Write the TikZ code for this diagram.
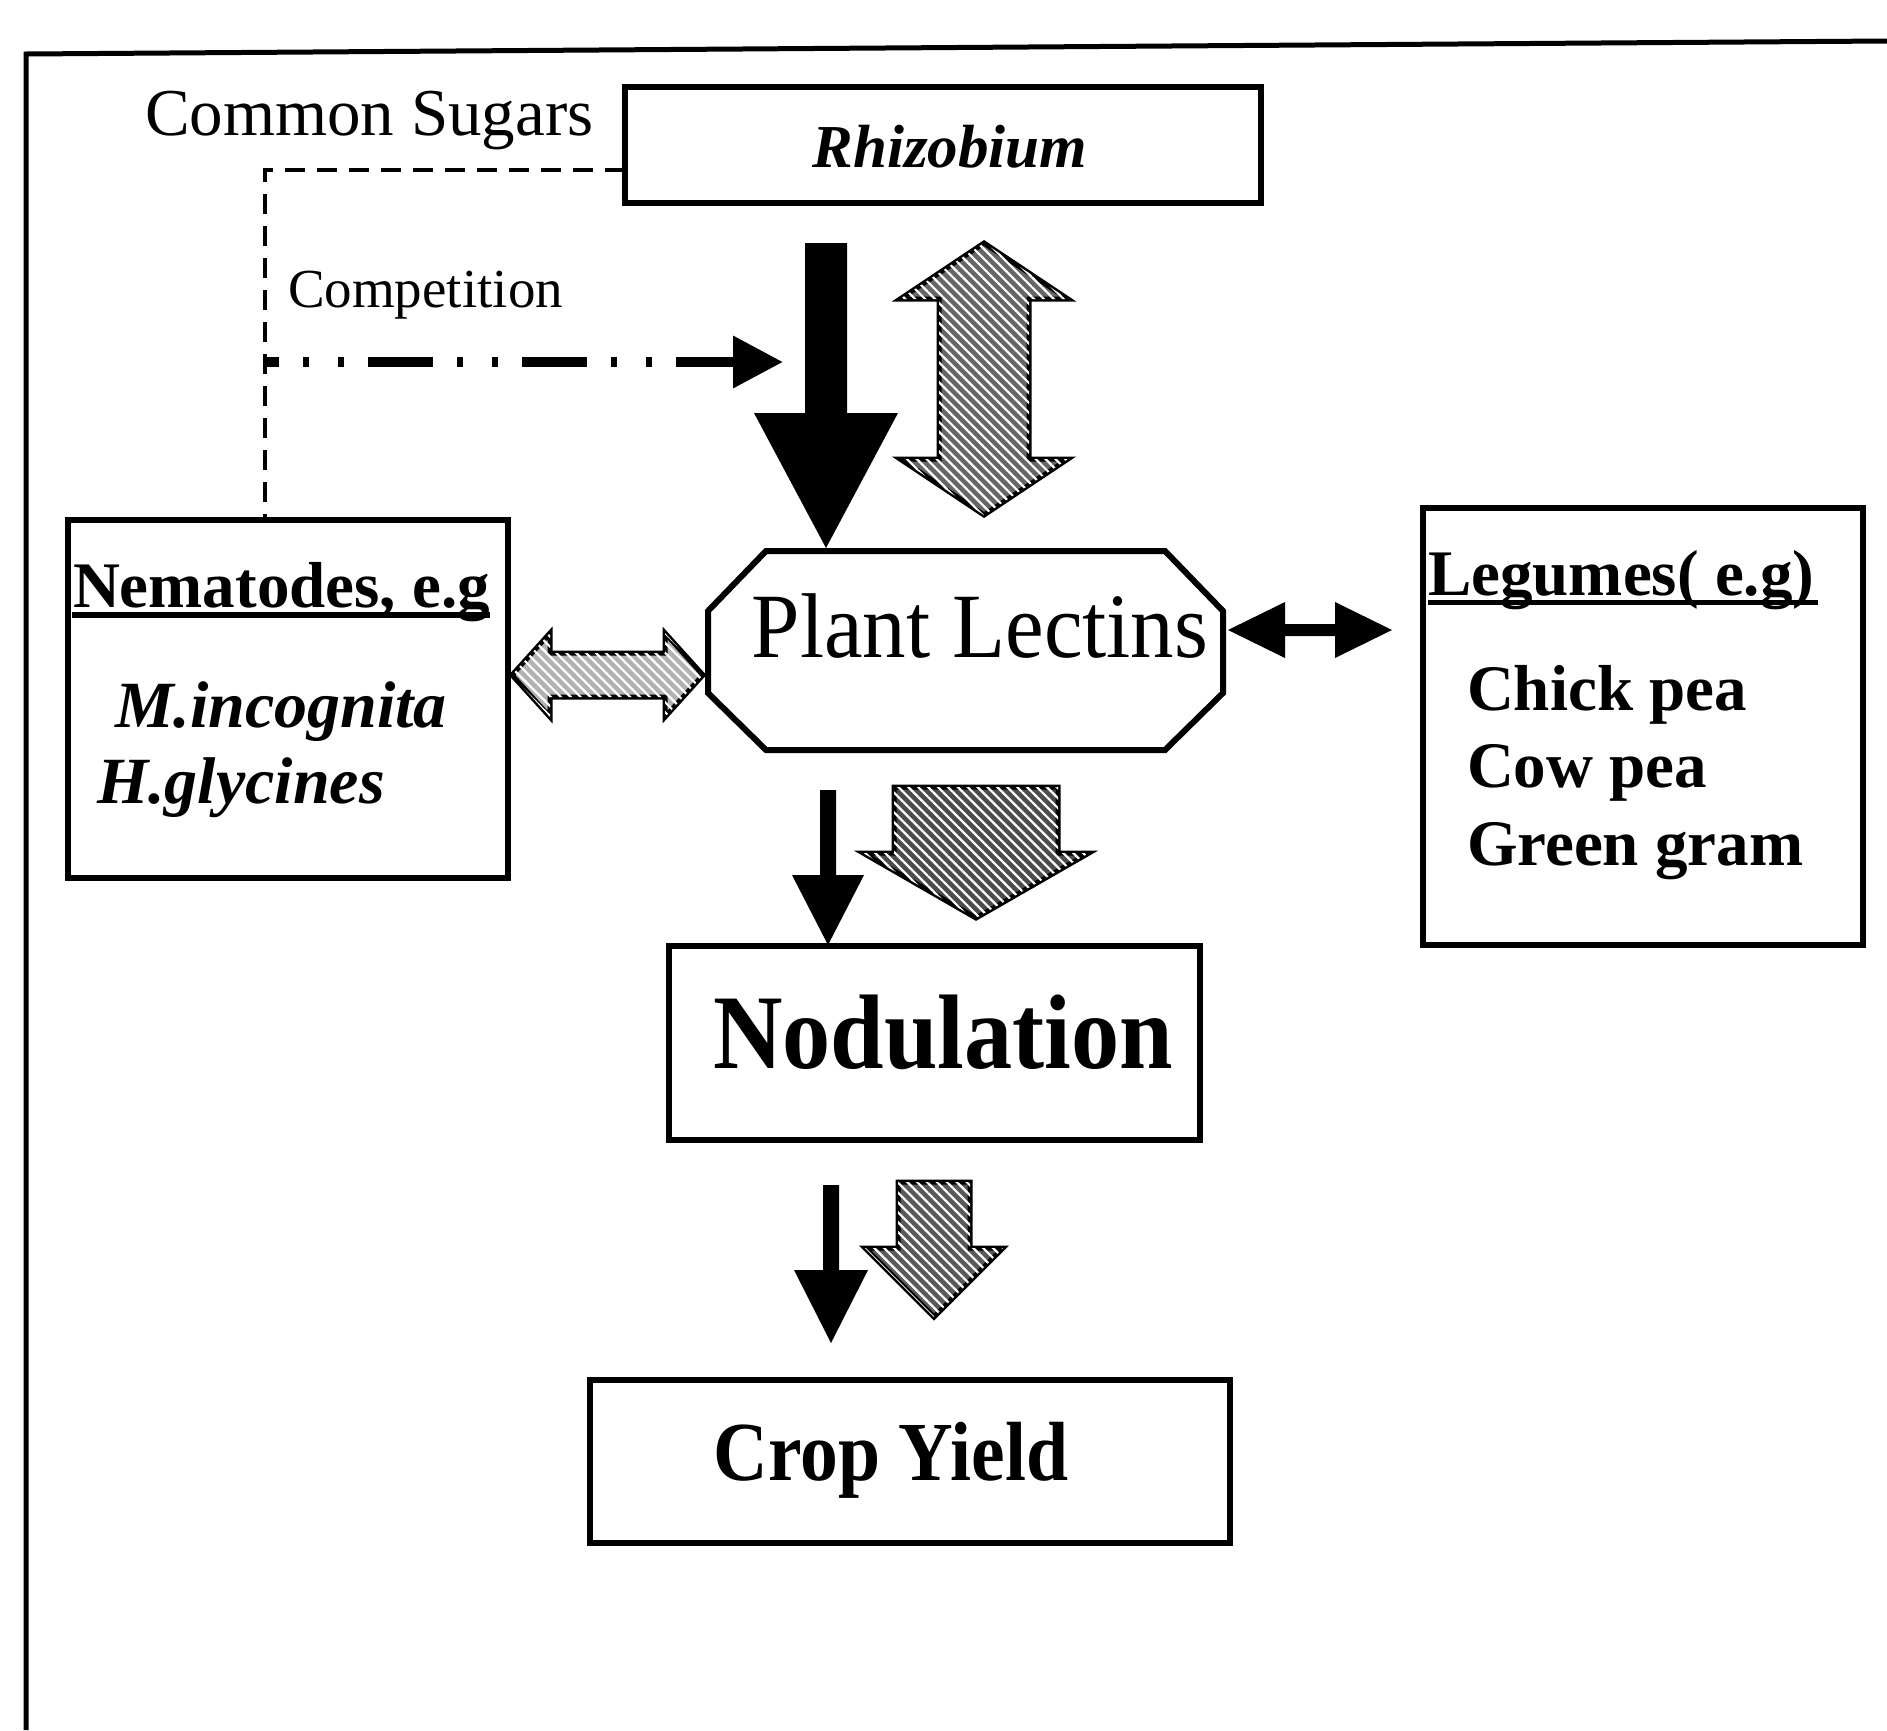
\documentclass[tikz,border=0pt]{standalone}
\usepackage{fontspec}
\setmainfont{Liberation Serif}
\usepackage{graphicx}
\usetikzlibrary{calc,arrows.meta,patterns.meta}

% single block arrow pointing down: style, start, tip, shaft half, head half, head length
\newcommand\vblock[6]{\path[#1] let \p1=(#2), \p2=(#3) in
  (\x1-#4,\y1) -- (\x1+#4,\y1) -- (\x1+#4,\y2+#6) -- (\x1+#5,\y2+#6) -- (\x2,\y2)
  -- (\x1-#5,\y2+#6) -- (\x1-#4,\y2+#6) -- cycle;}
% vertical double block arrow: style, top tip, bottom tip, shaft half, head half, head length
\newcommand\vdbl[6]{\path[#1] let \p1=(#2), \p2=(#3) in
  (\x1,\y1) -- (\x1+#5,\y1-#6) -- (\x1+#4,\y1-#6) -- (\x1+#4,\y2+#6) -- (\x1+#5,\y2+#6)
  -- (\x2,\y2) -- (\x1-#5,\y2+#6) -- (\x1-#4,\y2+#6) -- (\x1-#4,\y1-#6) -- (\x1-#5,\y1-#6) -- cycle;}
% horizontal double block arrow: style, left tip, right tip, shaft half, head half, head length
\newcommand\hdbl[6]{\path[#1] let \p1=(#2), \p2=(#3) in
  (\x1,\y1) -- (\x1+#6,\y1+#5) -- (\x1+#6,\y1+#4) -- (\x2-#6,\y1+#4) -- (\x2-#6,\y1+#5)
  -- (\x2,\y2) -- (\x2-#6,\y1-#5) -- (\x2-#6,\y1-#4) -- (\x1+#6,\y1-#4) -- (\x1+#6,\y1-#5) -- cycle;}

\begin{document}
\begin{tikzpicture}[x=1pt,y=-1pt,
  box/.style={draw, line width=6, inner sep=0pt, outer sep=0pt},
  txt/.style={inner sep=0pt, outer sep=0pt},
  hatch/.style={draw, line width=5, line join=miter, fill=black!#1,
    postaction={pattern={Lines[angle=-45,distance=7pt,line width=2.2pt]}, pattern color=white}},
  solidarrow/.style={fill=black},
  dashline/.style={line width=4, dash pattern=on 20pt off 12pt},
  boldtxt/.style={txt, font=\fontsize{65}{70}\selectfont\bfseries},
  bitxt/.style={txt, font=\fontsize{66}{70}\selectfont\bfseries\itshape},
]
\useasboundingbox (0,0) rectangle (1887,1730);
\fill[white] (0,0) rectangle (1887,1730);

% outer frame
\draw[line width=5] (26,1730) -- (26,54) -- (1887,41);

% boxes
\node[box, minimum width=636, minimum height=116] (rhiz) at (943,145) {};
\node[box, minimum width=440, minimum height=358] (nema) at (288,699) {};
\node[box, minimum width=440, minimum height=437] (legu) at (1643,726.5) {};
\node[box, minimum width=531, minimum height=194] (nodu) at (934.5,1043) {};
\node[box, minimum width=640, minimum height=163] (crop) at (910,1461.5) {};
\node[txt, minimum width=515, minimum height=199] (lect) at (965.5,650.5) {};
\draw[line width=6, line join=miter]
  ($(lect.north west)+(58,0)$) -- ($(lect.north east)+(-58,0)$) -- ($(lect.north east)+(0,60)$)
  -- ($(lect.south east)+(0,-57)$) -- ($(lect.south east)+(-58,0)$) -- ($(lect.south west)+(58,0)$)
  -- ($(lect.south west)+(0,-57)$) -- ($(lect.north west)+(0,60)$) -- cycle;

% texts
\node[txt, anchor=base west, font=\fontsize{67}{72}\selectfont] (sugars) at (145,135) {Common Sugars};
\node[txt, anchor=base, font=\fontsize{61}{66}\selectfont\bfseries\itshape] (rhiztext) at (950,167) {Rhizobium};
\node[txt, anchor=base west, font=\fontsize{55}{60}\selectfont] (comp) at (288,307) {Competition};
\node[boldtxt, anchor=base west] (nemtext) at (73,607) {Nematodes, e.g};
\draw[line width=6] ($(nemtext.base west)+(-1,8)$) -- ($(nemtext.base east)+(0,8)$);
\node[bitxt, anchor=base west] (minc) at (115,727) {M.incognita};
\node[bitxt, anchor=base west] (hgly) at (97,803) {H.glycines};
\node[txt, anchor=base, font=\fontsize{92}{96}\selectfont] (lecttext) at (980,657) {\scalebox{0.945}[1]{Plant Lectins}};
\node[boldtxt, anchor=base west] (legtext) at (1428,595) {Legumes( e.g)};
\draw[line width=5] ($(legtext.base west)+(0,7)$) -- ($(legtext.base east)+(4,7)$);
\node[boldtxt, anchor=base west] (chick) at (1467,710) {Chick pea};
\node[boldtxt, anchor=base west] (cow) at (1467,787) {Cow pea};
\node[boldtxt, anchor=base west] (green) at (1467,865) {Green gram};
\node[txt, anchor=base, font=\fontsize{106}{110}\selectfont\bfseries] (nodtext) at (943,1068) {\scalebox{0.908}[1]{Nodulation}};
\node[txt, anchor=base, font=\fontsize{84}{88}\selectfont\bfseries] (croptext) at (891,1480) {\scalebox{0.9}[1]{Crop Yield}};

% dashed link Rhizobium -- Nematodes
\coordinate (dj) at (265,170);
\draw[dashline] (rhiz.west |- dj) -- (dj) -- (dj |- nema.north);

% competition arrow
\coordinate (cs) at (265,362);
\coordinate (ce) at (783,362);
\draw[line width=10, dash pattern=on 65pt off 24pt on 6pt off 29pt on 6pt off 24pt, dash phase=51pt,
  -{Triangle[length=50pt,width=50pt]}] (cs) -- (ce);

% block arrows
\coordinate (a1) at (826,243); \coordinate (a2) at (826,548);
\vblock{solidarrow}{a1}{a2}{21}{72}{135}
\coordinate (b1) at (984,243); \coordinate (b2) at (984,515);
\vdbl{hatch=60}{b1}{b2}{45}{84}{56}
\coordinate (c1) at (828,790); \coordinate (c2) at (828,945);
\vblock{solidarrow}{c1}{c2}{8}{36}{70}
\coordinate (d1) at (976,787); \coordinate (d2) at (976,918);
\vblock{hatch=70}{d1}{d2}{82}{113}{65}
\coordinate (e1) at (831,1185); \coordinate (e2) at (831,1343);
\vblock{solidarrow}{e1}{e2}{8}{37}{73}
\coordinate (f1) at (934,1182); \coordinate (f2) at (934,1317);
\vblock{hatch=65}{f1}{f2}{36}{69}{69}
\coordinate (g1) at (512,675); \coordinate (g2) at (703,675);
\hdbl{hatch=30}{g1}{g2}{22}{42}{38}
\coordinate (h1) at (1228,630); \coordinate (h2) at (1392,630);
\hdbl{solidarrow}{h1}{h2}{6}{28}{57}
\end{tikzpicture}
\end{document}
